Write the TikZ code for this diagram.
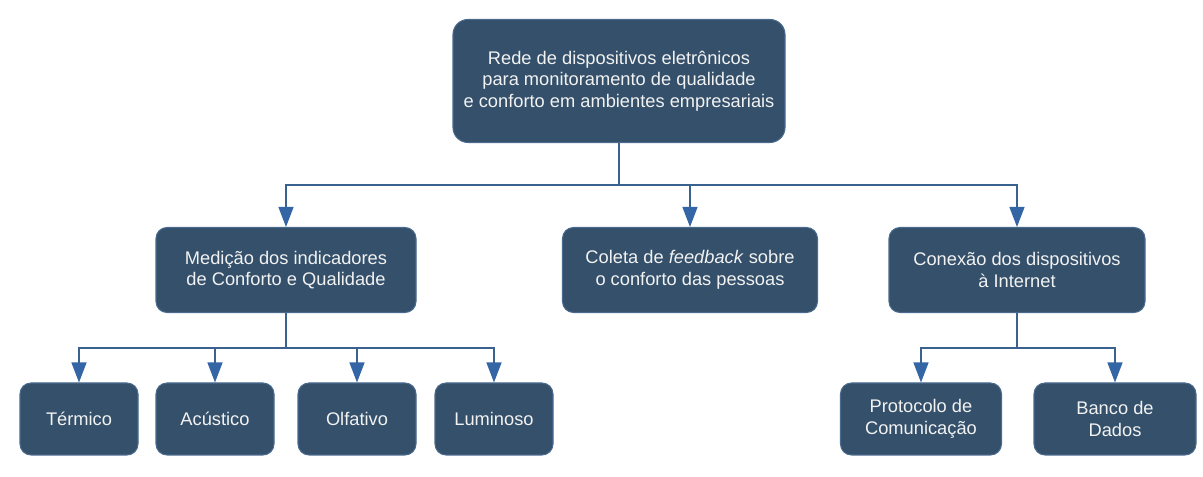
\documentclass[tikz,border=0pt]{standalone}
\usepackage{fontspec}
\setmainfont{Liberation Sans}
\usepackage{tikz}
\usetikzlibrary{positioning, arrows.meta}
\definecolor{boxfill}{HTML}{34506A}
\definecolor{boxline}{HTML}{4A6A8E}
\definecolor{connline}{HTML}{3A628F}
\definecolor{tipfill}{HTML}{3465A4}
\definecolor{boxtext}{HTML}{F2F2F2}

\begin{document}
\begin{tikzpicture}[
          box/.style={draw=boxline,line width=0.6pt,fill=boxfill,text=boxtext,rounded corners=0.22cm,
            align=center,font=\fontsize{10.4}{12.2}\selectfont,inner sep=0pt,minimum height=1.7cm},
          leaf/.style={box,minimum height=1.44cm},
          conn/.style={draw=connline,line width=0.75pt},
          arr/.style={conn,-{Triangle[length=0.4cm,width=0.3cm,fill=tipfill,color=tipfill]}}
        ]
        \useasboundingbox (0,0) rectangle (24.06,-9.54);
        % top level
        \node[box,minimum width=6.64cm,minimum height=2.46cm,rounded corners=0.3cm] (rede) at (12.38,-1.62)
          {Rede de dispositivos eletrônicos\\para monitoramento de qualidade\\e conforto em ambientes empresariais};
        % second level
        \node[box,minimum width=5.2cm] (med) at (5.72,-5.4) {Medição dos indicadores\\de Conforto e Qualidade};
        \node[box,minimum width=5.1cm] (col) at (13.8,-5.4) {Coleta de \textit{feedback} sobre\\o conforto das pessoas};
        \node[box,minimum width=5.12cm] (con) at (20.34,-5.4) {Conexão dos dispositivos\\à Internet};
        % third level
        \node[leaf,minimum width=2.36cm] (term) at (1.58,-8.38) {Térmico};
        \node[leaf,minimum width=2.36cm] (acus) at (4.3,-8.38) {Acústico};
        \node[leaf,minimum width=2.36cm] (olf) at (7.14,-8.38) {Olfativo};
        \node[leaf,minimum width=2.36cm] (lum) at (9.88,-8.38) {Luminoso};
        \node[leaf,minimum width=3.22cm] (prot) at (18.42,-8.38) {Protocolo de\\Comunicação};
        \node[leaf,minimum width=3.24cm] (banco) at (22.3,-8.38) {Banco de\\Dados};
        % buses
        \coordinate (busA) at (0,-3.7);
        \coordinate (busB) at (0,-6.96);
        \foreach\c in {med,col,con}{\draw[arr] (rede.south) |- (busA -| \c.north) -- (\c.north);}
        \foreach\c in {term,acus,olf,lum}{\draw[arr] (med.south) |- (busB -| \c.north) -- (\c.north);}
        \foreach\c in {prot,banco}{\draw[arr] (con.south) |- (busB -| \c.north) -- (\c.north);}
      \end{tikzpicture}
\end{document}
